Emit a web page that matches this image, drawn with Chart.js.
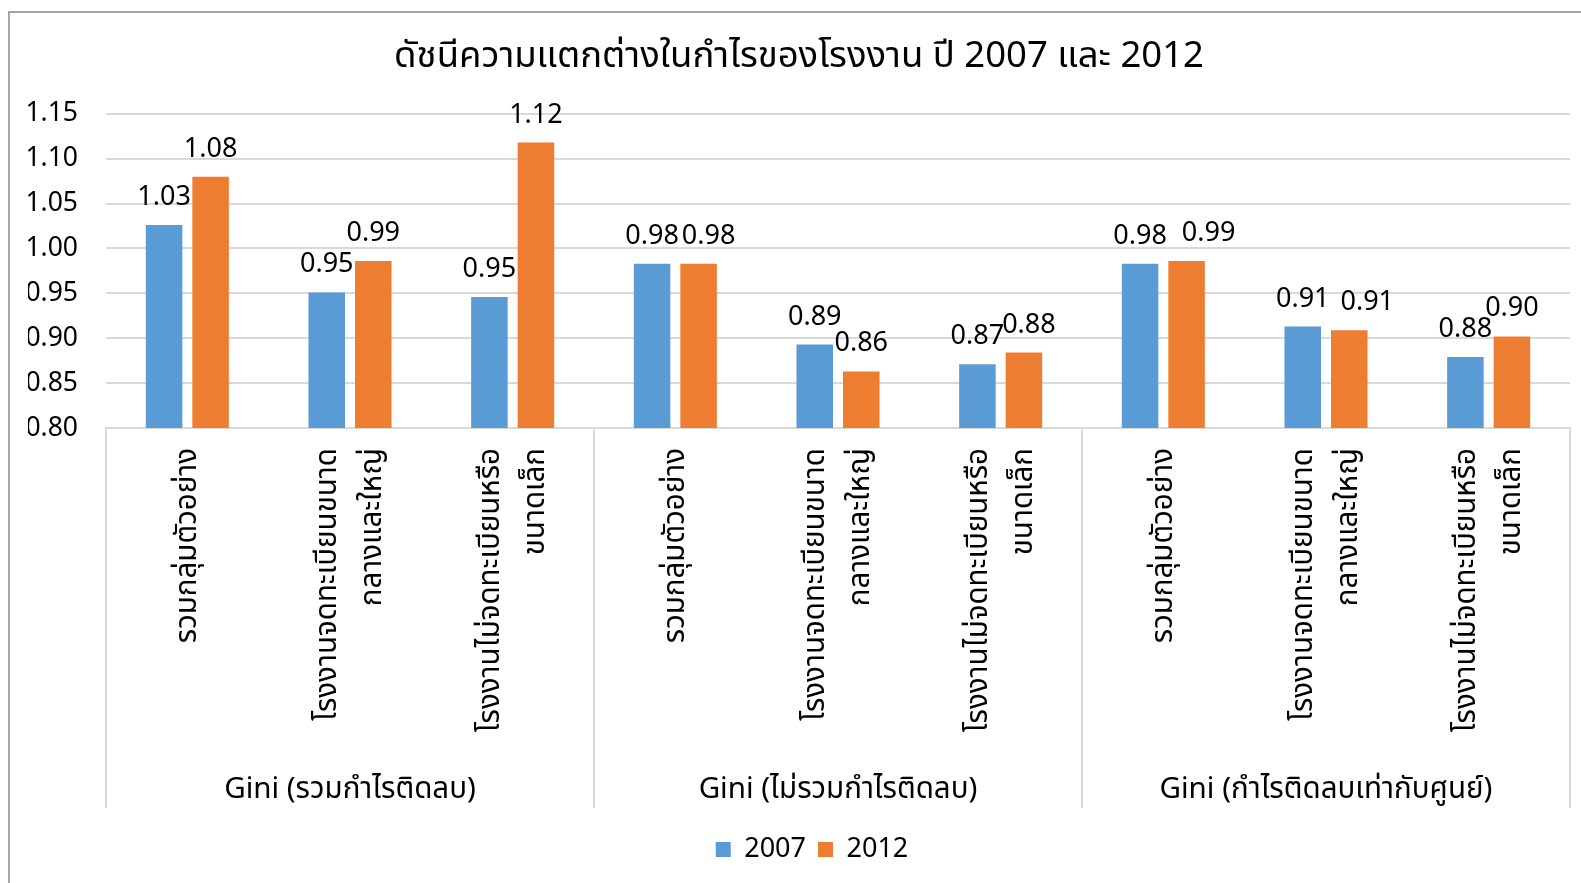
<!DOCTYPE html>
<html>
<head>
<meta charset="utf-8">
<script src="https://cdn.jsdelivr.net/npm/chart.js@4/dist/chart.umd.min.js"></script>
<style>
  html, body { margin: 0; padding: 0; background: #fff; overflow: hidden; width: 1581px; height: 883px; }
  #box { position: absolute; left: 8px; top: 11px; width: 1590px; height: 880px; border-left: 2px solid #a6a6a6; border-top: 2px solid #a6a6a6; background: #fff; }
  canvas { display: block; }
</style>
</head>
<body>
<div id="box"><canvas id="c" width="1590" height="880"></canvas></div>
<script>
const chartTitle = 'ดัชนีความแตกต่างในกำไรของโรงงาน ปี 2007 และ 2012';
const categories = [
  'รวมกลุ่มตัวอย่าง',
  ['โรงงานจดทะเบียนขนาด', 'กลางและใหญ่'],
  ['โรงงานไม่จดทะเบียนหรือ', 'ขนาดเล็ก'],
  'รวมกลุ่มตัวอย่าง',
  ['โรงงานจดทะเบียนขนาด', 'กลางและใหญ่'],
  ['โรงงานไม่จดทะเบียนหรือ', 'ขนาดเล็ก'],
  'รวมกลุ่มตัวอย่าง',
  ['โรงงานจดทะเบียนขนาด', 'กลางและใหญ่'],
  ['โรงงานไม่จดทะเบียนหรือ', 'ขนาดเล็ก']
];
const groups = ['Gini (รวมกำไรติดลบ)', 'Gini (ไม่รวมกำไรติดลบ)', 'Gini (กำไรติดลบเท่ากับศูนย์)'];
const seriesNames = ['2007', '2012'];
const values2007 = [1.026, 0.951, 0.946, 0.983, 0.893, 0.871, 0.983, 0.913, 0.879];
const values2012 = [1.080, 0.986, 1.118, 0.983, 0.863, 0.884, 0.986, 0.909, 0.902];
const yTicks = [0.80, 0.85, 0.90, 0.95, 1.00, 1.05, 1.10, 1.15];

// small horizontal nudges of value labels (style only, like Excel's overlap avoidance)
const labelNudge2007 = [0, 0, 0, 0, 0, 0, 0, 0, 0];
const labelNudge2012 = [0, 0, 0, 10, 0, 5, 22, 18, 0];

const FONT = "'Noto Sans', 'Noto Sans Thai', 'DejaVu Sans', sans-serif";
Chart.defaults.font.family = FONT;
Chart.defaults.color = '#000';

const LABEL_LINE = 45;   // px between the two lines of a wrapped category label
const LEGEND_SHIFT = 13; // legend sits a little right of the canvas centre (chart frame is wider than the window)

const valueLabels = {
  id: 'valueLabels',
  afterDatasetsDraw(chart) {
    const ctx = chart.ctx;
    const nudges = [labelNudge2007, labelNudge2012];
    ctx.save();
    ctx.font = '27px ' + FONT;
    ctx.fillStyle = '#000';
    ctx.textAlign = 'center';
    ctx.textBaseline = 'alphabetic';
    chart.data.datasets.forEach((ds, di) => {
      const meta = chart.getDatasetMeta(di);
      meta.data.forEach((bar, i) => {
        ctx.fillText(ds.data[i].toFixed(2), bar.x + nudges[di][i], bar.y - 20);
      });
    });
    ctx.restore();
  }
};

const legendShift = {
  id: 'legendShift',
  afterLayout(chart) {
    if (chart.legend) { chart.legend.left += LEGEND_SHIFT; chart.legend.right += LEGEND_SHIFT; }
  }
};

new Chart(document.getElementById('c'), {
  type: 'bar',
  data: {
    labels: categories,
    datasets: [
      { label: seriesNames[0], data: values2007, backgroundColor: '#5b9bd5', categoryPercentage: 0.572, barPercentage: 0.785 },
      { label: seriesNames[1], data: values2012, backgroundColor: '#ed7d31', categoryPercentage: 0.572, barPercentage: 0.785 }
    ]
  },
  options: {
    responsive: false,
    animation: false,
    layout: { padding: { left: 18, right: 30, top: 0, bottom: 20 } },
    plugins: {
      title: {
        display: true, text: chartTitle, color: '#000',
        font: { size: 36.5, weight: 'normal' }, padding: { top: 22, bottom: 35 }
      },
      legend: {
        position: 'bottom',
        labels: { boxWidth: 15, boxHeight: 15, color: '#000', font: { size: 27 }, padding: 12 }
      },
      tooltip: { enabled: false }
    },
    scales: {
      y: {
        min: 0.8, max: 1.15,
        afterBuildTicks(scale) { scale.ticks = yTicks.map(v => ({ value: v })); },
        afterFit(scale) { scale.width = 78; },
        ticks: { callback: v => Number(v).toFixed(2), padding: 28, color: '#000', font: { size: 26.5 } },
        grid: { color: '#d9d9d9', lineWidth: 2, drawTicks: false },
        border: { display: false }
      },
      x: {
        type: 'category', position: 'bottom', weight: 1, offset: true,
        afterFit(scale) { scale.height = 336; },
        grid: {
          display: true, drawOnChartArea: false, offset: true, tickLength: 380, lineWidth: 2,
          color: c => (c.type === 'scale' || c.index % 3 === 0) ? '#d9d9d9' : 'rgba(0,0,0,0)'
        },
        border: { display: true, color: '#d9d9d9', width: 2 },
        ticks: {
          autoSkip: false, minRotation: 90, maxRotation: 90, padding: -360, labelOffset: -LABEL_LINE / 2, color: '#000',
          // single-line labels get an empty leading line at half spacing so they stay centred on their tick
          callback: (v, i) => Array.isArray(categories[i]) ? categories[i] : ['', categories[i]],
          font: c => ({ size: 29.5, lineHeight: (Array.isArray(categories[c.index]) ? LABEL_LINE : LABEL_LINE / 2) + 'px' })
        }
      },
      x2: {
        type: 'category', labels: groups, position: 'bottom', weight: 2, offset: true,
        afterFit(scale) { scale.height = 60; },
        grid: { display: false, drawTicks: false }, border: { display: false },
        ticks: { color: '#000', font: { size: 29.5 }, padding: 8 }
      }
    }
  },
  plugins: [valueLabels, legendShift]
});
</script>
</body>
</html>
